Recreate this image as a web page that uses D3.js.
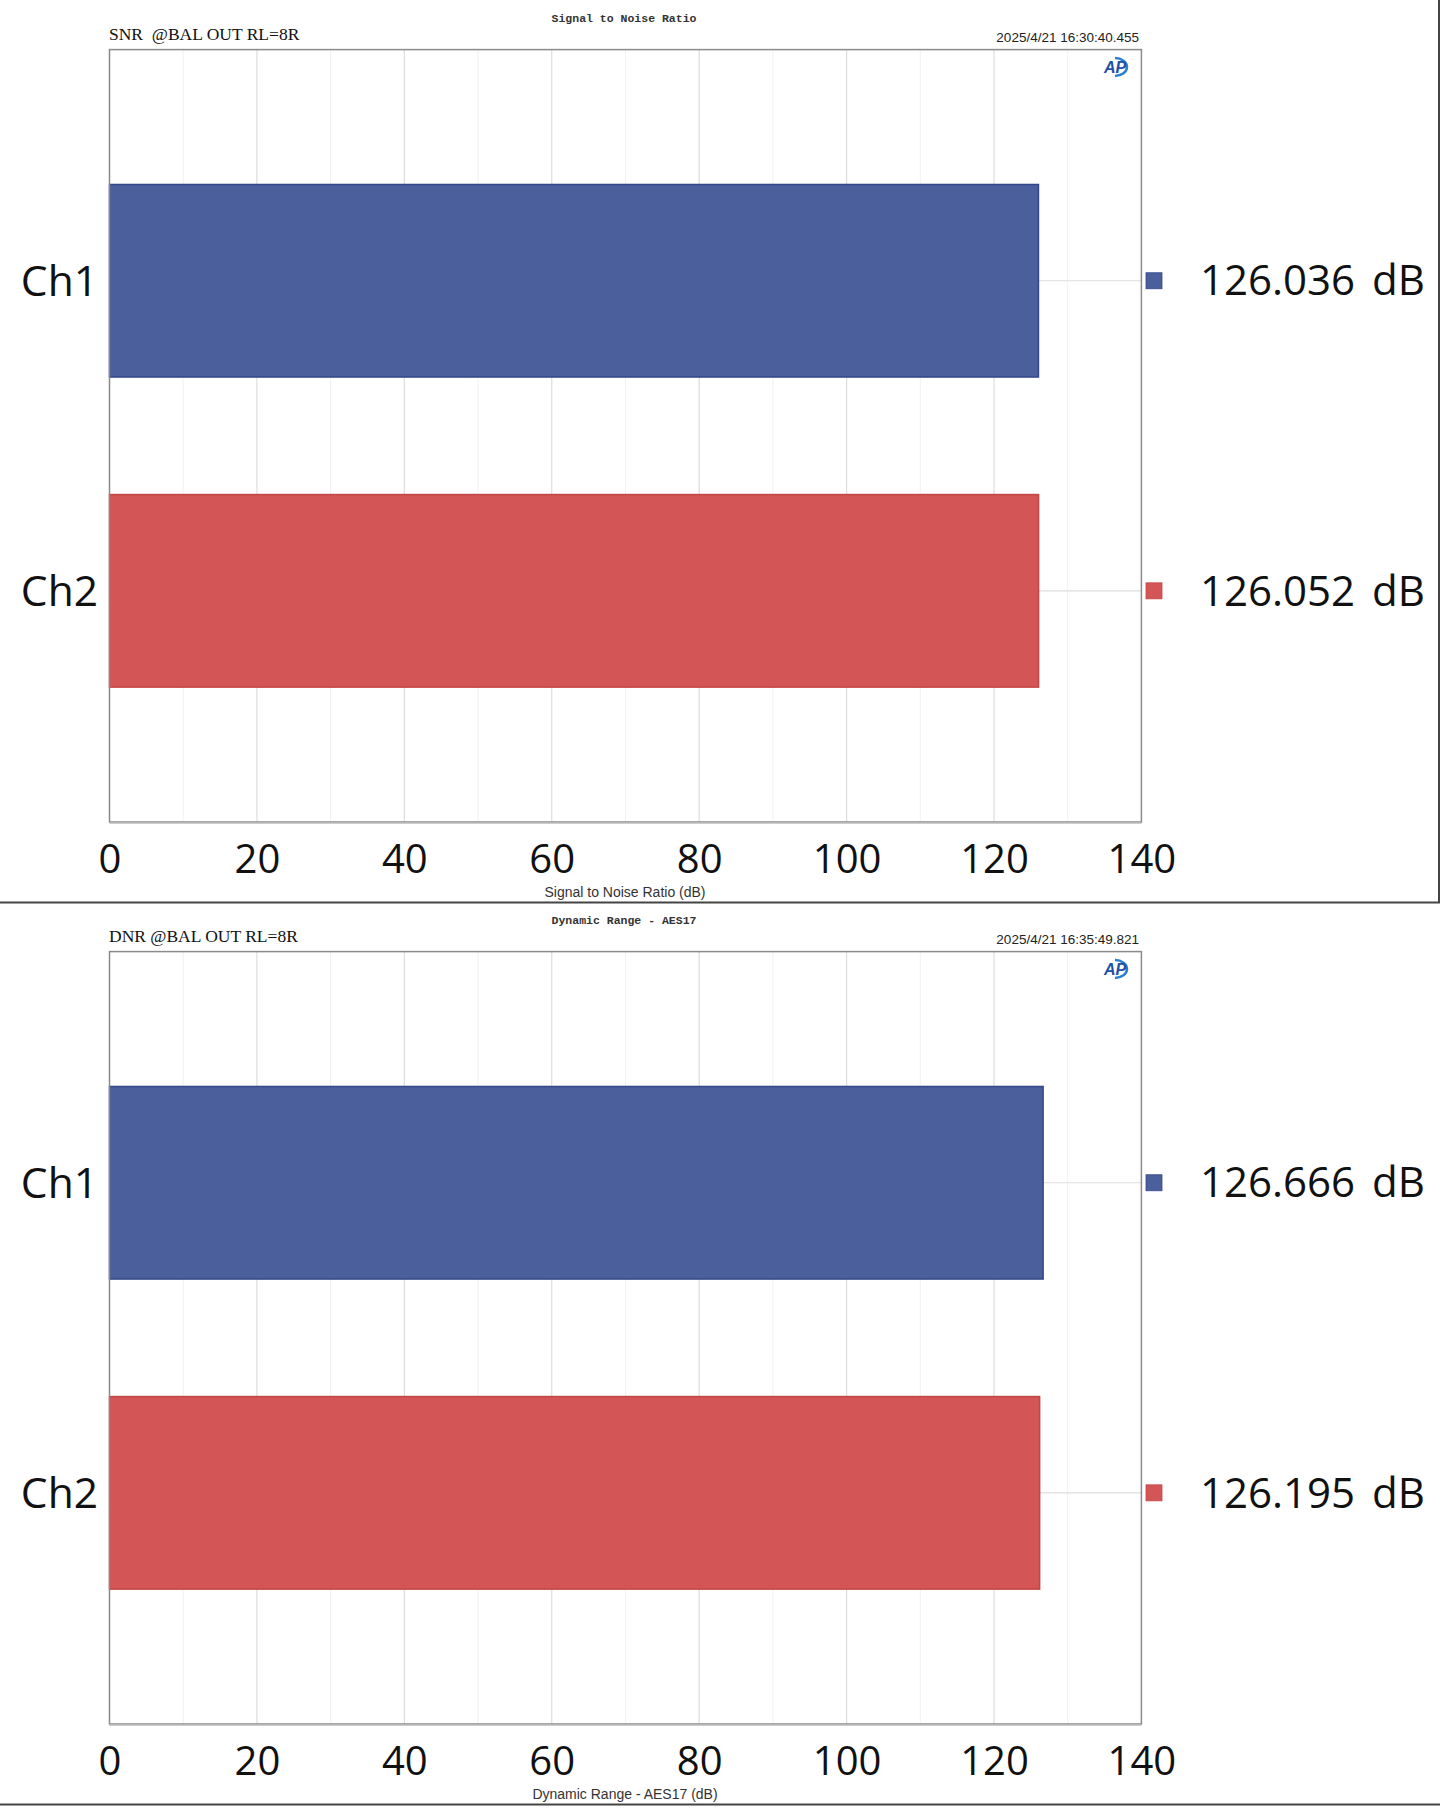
<!DOCTYPE html>
<html>
<head>
<meta charset="utf-8">
<script src="https://cdn.jsdelivr.net/npm/d3@7"></script>
<style>
  html, body { margin: 0; padding: 0; background: #fff; }
  svg { display: block; }
  text { white-space: pre; }
</style>
</head>
<body>
<svg id="chart" width="1440" height="1808"></svg>
<script>
// ---- data ----
const categories = ["Ch1", "Ch2"];
const snrValues = [126.036, 126.052];
const dnrValues = [126.666, 126.195];
const valueLabels1 = ["126.036 dB", "126.052 dB"];
const valueLabels2 = ["126.666 dB", "126.195 dB"];
const xTicks = [0, 20, 40, 60, 80, 100, 120, 140];
const minorTicks = [10, 30, 50, 70, 90, 110, 130];
const panelTitles = ["Signal to Noise Ratio", "Dynamic Range - AES17"];
const panelSubtitles = ["SNR  @BAL OUT RL=8R", "DNR @BAL OUT RL=8R"];
const panelDates = ["2025/4/21 16:30:40.455", "2025/4/21 16:35:49.821"];
const axisTitles = ["Signal to Noise Ratio (dB)", "Dynamic Range - AES17 (dB)"];
const seriesColors = ["#4a5f9b", "#d45556"];
const seriesStrokes = ["#34478a", "#c34646"];

const svg = d3.select("#chart");
const FONT = "'Open Sans', 'Noto Sans', sans-serif";

const panels = [
  { oy: 0, values: snrValues, labels: valueLabels1, idx: 0 },
  { oy: 902, values: dnrValues, labels: valueLabels2, idx: 1 }
];

const plotL = 109.5, plotR = 1141.4, plotT = 49.6, plotB = 822;

const x = d3.scaleLinear().domain([0, 140]).range([plotL, plotR]);

panels.forEach(p => {
  const g = svg.append("g").attr("transform", `translate(0,${p.oy})`);
  const y = d3.scaleBand().domain(categories).range([plotT, plotB])
    .paddingInner(0.379).paddingOuter(0.435);

  // panel frame lines
  g.append("line").attr("x1", 0).attr("x2", 1440).attr("y1", 902.5).attr("y2", 902.5)
    .attr("stroke", "#444").attr("stroke-width", 2);
  if (p.idx === 0) {
    g.append("line").attr("x1", 1439).attr("x2", 1439).attr("y1", 0).attr("y2", 903)
      .attr("stroke", "#444").attr("stroke-width", 2);
  }

  // plot background
  g.append("rect").attr("x", plotL).attr("y", plotT)
    .attr("width", plotR - plotL).attr("height", plotB - plotT).attr("fill", "#fff");

  // minor grid
  g.selectAll(".minor").data(minorTicks).enter().append("line")
    .attr("x1", d => x(d)).attr("x2", d => x(d))
    .attr("y1", plotT).attr("y2", plotB)
    .attr("stroke", "#f1f1f3").attr("stroke-width", 1);
  // major grid
  g.selectAll(".major").data(xTicks.slice(1, -1)).enter().append("line")
    .attr("x1", d => x(d)).attr("x2", d => x(d))
    .attr("y1", plotT).attr("y2", plotB)
    .attr("stroke", "#dcdcdc").attr("stroke-width", 1.2);

  // connector lines from bar end to plot right edge
  g.selectAll(".conn").data(p.values).enter().append("line")
    .attr("x1", d => x(d)).attr("x2", plotR)
    .attr("y1", (d, i) => y(categories[i]) + y.bandwidth() / 2)
    .attr("y2", (d, i) => y(categories[i]) + y.bandwidth() / 2)
    .attr("stroke", "#dddddd").attr("stroke-width", 1.2);

  // bars
  g.selectAll(".bar").data(p.values).enter().append("rect")
    .attr("x", x(0)).attr("y", (d, i) => y(categories[i]))
    .attr("width", d => x(d) - x(0)).attr("height", y.bandwidth())
    .attr("fill", (d, i) => seriesColors[i])
    .attr("stroke", (d, i) => seriesStrokes[i]).attr("stroke-width", 1.5);

  // plot border
  g.append("rect").attr("x", plotL).attr("y", plotT)
    .attr("width", plotR - plotL).attr("height", plotB - plotT)
    .attr("fill", "none").attr("stroke", "#8a8a8a").attr("stroke-width", 1.5);
  g.append("line").attr("x1", plotL).attr("x2", plotR).attr("y1", plotB + 1).attr("y2", plotB + 1)
    .attr("stroke", "#bbb").attr("stroke-width", 1.5);

  // x axis ticks labels
  const xAxis = d3.axisBottom(x).tickValues(xTicks).tickSize(0).tickPadding(0).tickFormat(d3.format("d"));
  const ax = g.append("g").attr("transform", `translate(0,${plotB})`).call(xAxis);
  ax.select(".domain").remove();
  ax.selectAll("text").attr("font-family", FONT).attr("font-size", 40)
    .attr("fill", "#111").attr("dy", null).attr("y", 51);

  // y category labels
  const yAxis = d3.axisLeft(y).tickSize(0).tickPadding(0);
  const ay = g.append("g").attr("transform", `translate(98,0)`).call(yAxis);
  ay.select(".domain").remove();
  ay.selectAll("text").attr("font-family", FONT).attr("font-size", 42.5)
    .attr("fill", "#111").attr("dy", "0.35em");

  // legend squares + value labels
  p.values.forEach((v, i) => {
    const cy = y(categories[i]) + y.bandwidth() / 2;
    g.append("rect").attr("x", 1146).attr("y", cy - 8).attr("width", 16).attr("height", 16)
      .attr("fill", seriesColors[i]).attr("stroke", seriesStrokes[i]).attr("stroke-width", 0.8);
    g.append("text").attr("x", 1200).attr("y", cy).attr("dy", "0.35em")
      .attr("font-family", FONT).attr("font-size", 42).attr("fill", "#111")
      .attr("word-spacing", 6)
      .text(p.labels[i]);
  });

  // titles
  g.append("text").attr("x", 624).attr("y", 22).attr("text-anchor", "middle")
    .attr("font-family", "'Liberation Mono', 'DejaVu Sans Mono', monospace")
    .attr("font-size", 11.5).attr("font-weight", "bold").attr("fill", "#333")
    .text(panelTitles[p.idx]);
  g.append("text").attr("x", 109).attr("y", 40)
    .attr("font-family", "'Liberation Serif', serif")
    .attr("font-size", 17.5).attr("fill", "#111")
    .text(panelSubtitles[p.idx]);
  g.append("text").attr("x", 1139).attr("y", 42).attr("text-anchor", "end")
    .attr("font-family", "'Liberation Sans Narrow', 'Liberation Sans', sans-serif")
    .attr("font-size", 13.5).attr("fill", "#222")
    .text(panelDates[p.idx]);
  g.append("text").attr("x", 625).attr("y", 897).attr("text-anchor", "middle")
    .attr("font-family", "'Liberation Sans Narrow', 'Liberation Sans', sans-serif")
    .attr("font-size", 14).attr("fill", "#333")
    .text(axisTitles[p.idx]);

  // AP logo
  const logo = g.append("g").attr("transform", "translate(1117,67)");
  logo.append("path").attr("d", "M -2 -9 A 12 9 0 1 1 -2 9")
    .attr("fill", "none").attr("stroke", "#2a7fd0").attr("stroke-width", 2.5);
  logo.append("text").attr("x", -2).attr("y", 6).attr("text-anchor", "middle")
    .attr("font-family", "'Liberation Sans', sans-serif").attr("font-style", "italic")
    .attr("font-weight", "bold").attr("font-size", 16).attr("fill", "#1f4fa8")
    .text("AP");
});
</script>
</body>
</html>
